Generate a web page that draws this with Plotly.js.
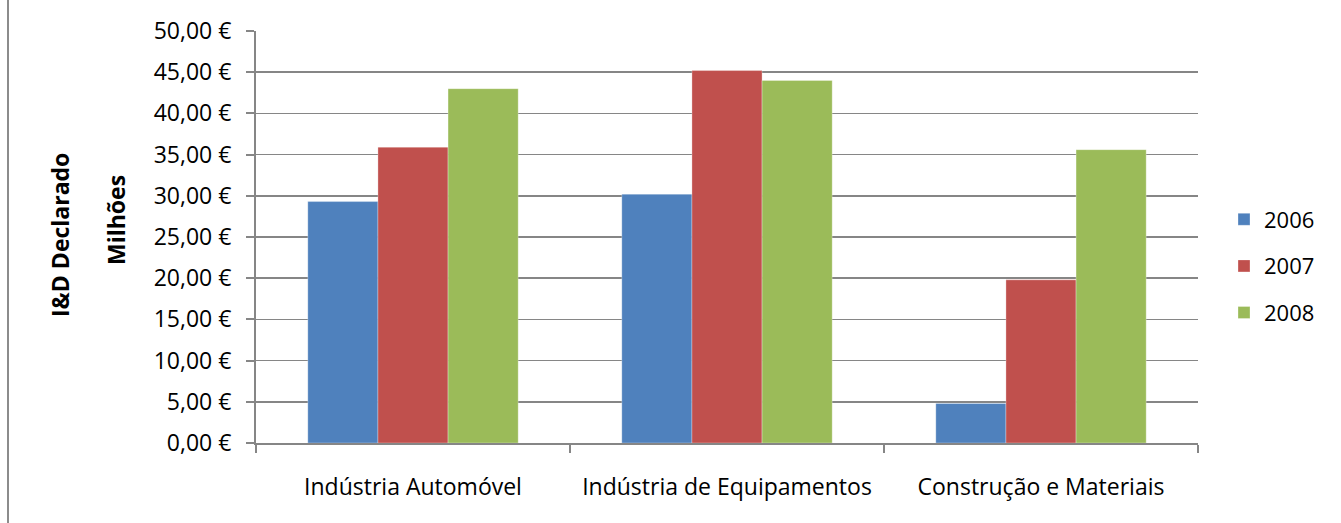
<!DOCTYPE html>
<html>
<head>
<meta charset="utf-8">
<script src="https://cdn.plot.ly/plotly-3.0.1.min.js"></script>
<style>
  html, body { margin: 0; padding: 0; background: #fff; }
  #wrap { position: relative; width: 1341px; height: 523px; }
  #chart { width: 1341px; height: 523px; }
  #border { position: absolute; left: 7px; top: 0; width: 0; height: 523px; border-left: 2px solid #8c8c8c; }
</style>
</head>
<body>
<div id="wrap">
  <div id="chart"></div>
  <div id="border"></div>
</div>
<script>
const categories = ["Indústria Automóvel", "Indústria de Equipamentos", "Construção e Materiais"];
const seriesNames = ["2006", "2007", "2008"];
const values2006 = [29.3, 30.2, 4.8];
const values2007 = [35.9, 45.2, 19.8];
const values2008 = [43.0, 44.0, 35.6];
const colors = ["#4F81BD", "#C0504D", "#9BBB59"];
const yTitle = "I&D Declarado";
const unitsLabel = "Milhões";

const seriesValues = [values2006, values2007, values2008];
const font = "'Open Sans', Lato, sans-serif";

const traces = seriesNames.map((name, i) => ({
  type: "bar",
  name: name,
  x: categories,
  y: seriesValues[i],
  legendgroup: name,
  marker: { color: colors[i], line: { color: "rgba(255,255,255,0.5)", width: 0.6 } },
  hoverinfo: "x+y+name"
}));

const layout = {
  width: 1341, height: 523,
  margin: { l: 256, r: 143, t: 31, b: 80 },
  paper_bgcolor: "#fff", plot_bgcolor: "#fff",
  font: { family: font, size: 23, color: "#000" },
  separators: ", ",
  barmode: "group",
  bargap: 0.33,
  bargroupgap: 0,
  showlegend: true,
  legend: {
    x: (1224 - 256) / 942, xanchor: "left",
    y: (443 - 266) / 412, yanchor: "middle",
    font: { family: font, size: 22, color: "#000" },
    tracegroupgap: 15,
    itemwidth: 30
  },
  xaxis: {
    type: "category",
    showline: true, linecolor: "#868686", linewidth: 2,
    ticks: "outside", tickson: "boundaries", ticklen: 8, tickwidth: 2, tickcolor: "#868686",
    showgrid: false,
    ticklabelstandoff: 22,
    tickfont: { family: font, size: 23, color: "#000" }
  },
  yaxis: {
    range: [0, 50],
    dtick: 5, tick0: 0,
    tickformat: ".2f", ticksuffix: " €",
    showline: true, linecolor: "#868686", linewidth: 2,
    ticks: "outside", ticklen: 8, tickwidth: 2, tickcolor: "#868686",
    showgrid: true, gridcolor: "#868686", gridwidth: 1.5,
    zeroline: false,
    ticklabelstandoff: 10,
    tickfont: { family: font, size: 23, color: "#000" }
  },
  annotations: [
    {
      text: "<b>" + yTitle + "</b>", textangle: -90,
      xref: "paper", yref: "paper",
      x: (60 - 256) / 942, y: (443 - 235) / 412,
      xanchor: "center", yanchor: "middle", showarrow: false,
      font: { family: font, size: 23, color: "#000" }
    },
    {
      text: "<b>" + unitsLabel + "</b>", textangle: -90,
      xref: "paper", yref: "paper",
      x: (116 - 256) / 942, y: (443 - 220) / 412,
      xanchor: "center", yanchor: "middle", showarrow: false,
      font: { family: font, size: 23, color: "#000" }
    }
  ]
};

Plotly.newPlot("chart", traces, layout, { displayModeBar: false, staticPlot: true });
</script>
</body>
</html>
